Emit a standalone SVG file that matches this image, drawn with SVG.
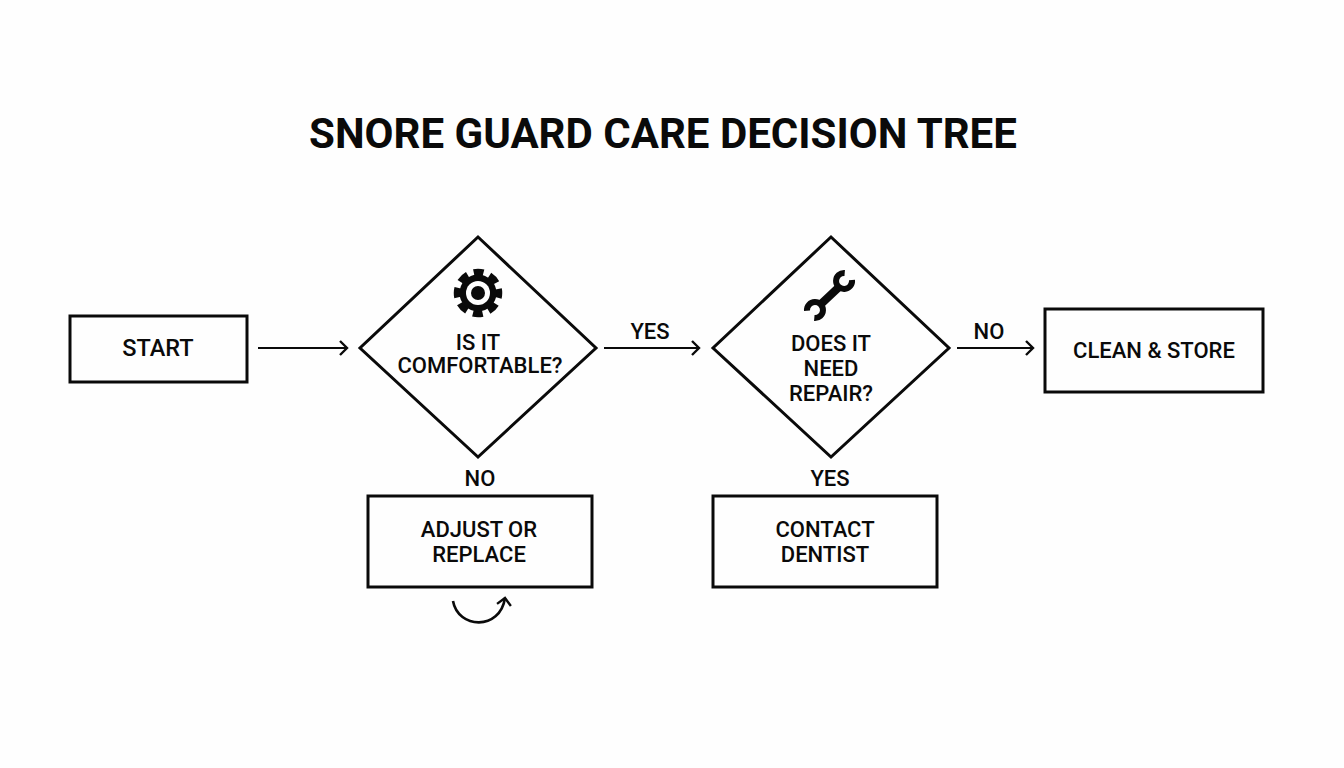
<svg xmlns="http://www.w3.org/2000/svg" width="1344" height="768" viewBox="0 0 1344 768">
<style>
text{font-family:Roboto,"Liberation Sans",sans-serif;font-weight:500;font-size:22px;fill:#0a0a0a;text-anchor:middle}
.s{fill:#fefefe;stroke:#0a0a0a;stroke-width:3}
.c{fill:none;stroke:#0a0a0a;stroke-width:2.2;marker-end:url(#a)}
.k{fill:#0a0a0a}
.w{fill:none;stroke:#0a0a0a}
</style>
<defs><marker id="a" markerUnits="userSpaceOnUse" markerWidth="16" markerHeight="18" refX="13" refY="9" orient="auto"><path d="M6 2L13 9L6 16" fill="none" stroke="#0a0a0a" stroke-width="2.4"/></marker></defs>
<rect width="1344" height="768" fill="#fefefe"/>
<text x="663" y="148" style="font-size:42px;font-weight:700">SNORE GUARD CARE DECISION TREE</text>
<g id="connectors">
<path class="c" d="M258 348H347"/><path class="c" d="M604 348H699"/><path class="c" d="M957 348H1033"/>
<path class="c" style="stroke-width:2.6" d="M453 601C458 629 500 631 505 598"/>
</g>
<g id="start"><rect class="s" x="70" y="316" width="177" height="66"/><text x="158" y="356" style="font-size:23.5px">START</text></g>
<g id="q1"><path class="s" d="M478 237L596 348L478 457L360 348Z"/>
<g transform="translate(478 293)"><circle class="w" r="21" stroke-width="6.5" stroke-dasharray="10 6.49" stroke-dashoffset="5"/><circle class="k" r="18.5"/><circle r="12" fill="#fefefe"/><circle class="k" r="7"/></g>
<text x="478" y="350">IS IT</text><text x="480" y="373">COMFORTABLE?</text></g>
<g id="q2"><path class="s" d="M831 237L949 348L831 457L713 348Z"/>
<g id="wrench"><path class="w" stroke-width="8" d="M838 288L821 304"/>
<path class="w" stroke-width="6" d="M844.7 273A8 8 0 1 0 852 280"/>
<path class="w" stroke-width="6" d="M807 310.7A8 8 0 1 1 814.3 318"/></g>
<text x="831" y="351">DOES IT</text><text x="831" y="376">NEED</text><text x="831" y="401">REPAIR?</text></g>
<g id="end"><rect class="s" x="1045" y="309" width="218" height="83"/><text x="1154" y="358">CLEAN &amp; STORE</text></g>
<g id="adjust"><rect class="s" x="368" y="496" width="224" height="91"/><text x="479" y="537">ADJUST OR</text><text x="479" y="562">REPLACE</text></g>
<g id="dentist"><rect class="s" x="713" y="496" width="224" height="91"/><text x="825" y="537">CONTACT</text><text x="825" y="562">DENTIST</text></g>
<g id="labels"><text x="650" y="339">YES</text><text x="989" y="339">NO</text><text x="480" y="486">NO</text><text x="830" y="486">YES</text></g>
</svg>
